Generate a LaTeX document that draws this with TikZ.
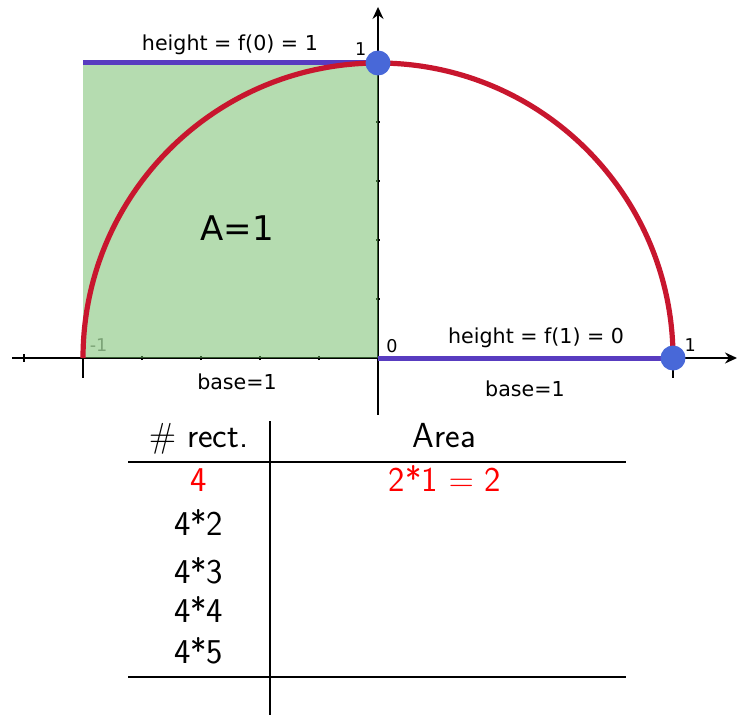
\documentclass[tikz,border=0pt]{standalone}
\usepackage{fontspec}
\usepackage{amsmath}
\usetikzlibrary{arrows.meta}
\newfontfamily\graphfont{DejaVu Sans}
\definecolor{arcred}{RGB}{200,22,46}
\definecolor{segblue}{RGB}{88,60,192}
\definecolor{dotblue}{RGB}{72,104,216}
\definecolor{areagreen}{RGB}{107,185,97}
\tikzset{
  lbl/.style={font=\graphfont\fontsize{10.3}{12}\selectfont,anchor=base},
  ticklbl/.style={font=\graphfont\fontsize{8.8}{10}\selectfont,anchor=base,inner sep=0pt},
  cell/.style={font=\sffamily\fontsize{17.4}{20}\selectfont,anchor=base},
  dot/.style={circle,fill=dotblue,minimum size=12.5pt,inner sep=0pt},
  axis/.style={line width=0.9pt,-{Stealth[length=6pt,width=5.5pt]}},
  rule/.style={line width=0.7pt}
}

\begin{document}
\begin{tikzpicture}[x=147.5pt,y=147.5pt,>=Stealth]
\useasboundingbox (-1.2814,-1.2102) rectangle (1.2169,1.2136);
% axes and ticks
\draw[axis](-1.2407,0)--(1.2169,0);
\draw[axis](0,-0.193)--(0,1.19);
\foreach \x in {-0.8,-0.6,-0.4,-0.2,0.2,0.4,0.6,0.8}
  \draw[line width=0.7pt](\x,-0.007)--(\x,0.007);
\foreach \y in {0.2,0.4,0.6,0.8}
  \draw[line width=0.7pt](-0.007,\y)--(0.007,\y);
\draw[line width=0.9pt](-1.2,-0.012)--(-1.2,0.012);
\draw[line width=0.9pt](-1,0)--(-1,-0.068);
\draw[line width=0.9pt](1,0)--(1,-0.068);
\node[ticklbl,text=black!45](xm1) at (-0.947,0.021){-1};
% square under the left quarter
\fill[areagreen,opacity=0.5](-1,0) rectangle (0,1);
\node[font=\graphfont\fontsize{17}{20}\selectfont,anchor=base](area) at (-0.478,0.397){A=1};
% heights
\draw[segblue,line width=2.5pt](-1,1)--(0,1);
\draw[segblue,line width=2.5pt](0,0)--(1,0);
% half circle
\draw[arcred,line width=2.6pt](1,0) arc[start angle=0,end angle=180,radius=1];
\node[dot](top) at (0,1){};
\node[dot](right) at (1,0){};
% labels
\node[ticklbl](y1) at (-0.059,1.027){1};
\node[ticklbl](x0) at (0.047,0.019){0};
\node[ticklbl](x1) at (1.058,0.021){1};
\node[lbl](hleft) at (-0.502,1.042){height = f(0) = 1};
\node[lbl](hright) at (0.536,0.050){height = f(1) = 0};
\node[lbl](bleft) at (-0.478,-0.106){base=1};
\node[lbl](bright) at (0.498,-0.129){base=1};
% table
\coordinate (tl) at (-0.847,-0.3525);
\coordinate (tr) at (0.84,-0.3525);
\coordinate (bl) at (-0.847,-1.081);
\coordinate (br) at (0.84,-1.081);
\coordinate (vt) at (-0.366,-0.2136);
\coordinate (vb) at (-0.366,-1.2102);
\draw[rule](tl)--(tr);
\draw[rule](bl)--(br);
\draw[rule](vt)--(vb);
\node[cell](hnum) at (-0.607,-0.305){$\#$ rect.};
\node[cell](harea) at (0.225,-0.305){Area};
\node[cell,text=red](n1) at (-0.607,-0.451){4};
\node[cell,text=red](a1) at (0.227,-0.451){2*1 $=$ 2};
\node[cell](n2) at (-0.608,-0.600){4*2};
\node[cell](n3) at (-0.608,-0.763){4*3};
\node[cell](n4) at (-0.608,-0.895){4*4};
\node[cell](n5) at (-0.608,-1.034){4*5};
\end{tikzpicture}
\end{document}
